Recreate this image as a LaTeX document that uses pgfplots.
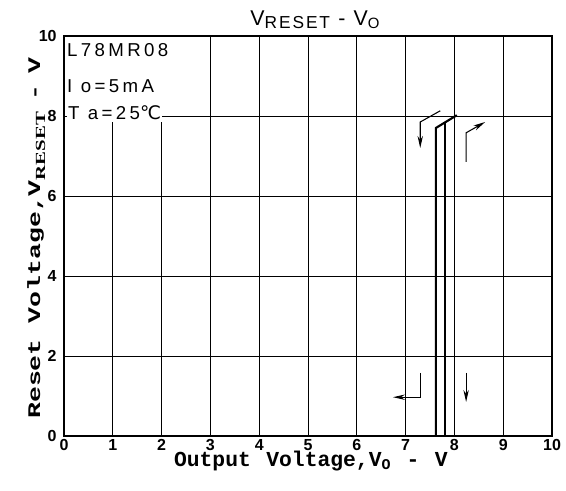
\documentclass[border=0pt]{standalone}
\usepackage{fontspec}
\setmainfont{Liberation Sans}
\setmonofont{Liberation Mono}
\newfontfamily\dejavu{DejaVu Sans}
\newfontfamily\serifb{Liberation Serif}
\newfontfamily\spaced[LetterSpace=18]{Liberation Sans}
\newfontfamily\titlefont[LetterSpace=11]{Liberation Sans}
\usepackage{graphicx}
\usepackage{pgfplots}
\pgfplotsset{compat=1.18}
\usetikzlibrary{calc,arrows.meta}
\begin{document}
\begin{tikzpicture}
\begin{axis}[
  scale only axis,
  width=366pt, height=300pt,
  xmin=0, xmax=10, ymin=0, ymax=10,
  xtick={0,1,...,10}, ytick={0,2,...,10},
  grid=major,
  major grid style={black, line width=0.5pt},
  axis line style={black, line width=1pt},
  tick style={draw=none},
  /pgf/number format/assume math mode=true,
  ticklabel style={font=\bfseries\fontsize{12}{14}\selectfont},
  xticklabel style={yshift=1pt},
  yticklabel style={xshift=-2pt},
  xlabel={\textbf{\texttt{Output\ \hspace{2pt}Voltage,V\textsubscript{O}\ \hspace{2pt}-\ \hspace{2pt}V}}},
  xlabel style={font=\fontsize{16}{18}\selectfont, at={(rel axis cs:0.506,0)}, anchor=north, inner sep=0pt, yshift=-11pt},
  ylabel={\scalebox{1.42}[0.95]{\textbf{\texttt{Reset Voltage,V\raisebox{-4pt}{\serifb\bfseries\fontsize{11}{13}\selectfont RESET}\hspace{6pt}-\hspace{6pt}V}}}},
  ylabel style={font=\fontsize{14}{16}\selectfont, at={(rel axis cs:-0.057,0.495)}, anchor=center, inner sep=0pt},
  title={V\raisebox{-2pt}{\fontsize{13}{15}\selectfont RESET} - V\textsubscript{O}},
  title style={font=\titlefont\fontsize{16}{18}\selectfont, at={(rel axis cs:0.515,1)}, anchor=south, inner sep=0pt, yshift=-1pt},
]
\fill[white] (axis cs:0.03,8.04) rectangle (axis cs:2.3,9.97);
\node[anchor=west, inner sep=0pt, font=\spaced\fontsize{14}{16}\selectfont] at (axis cs:0.06,9.65) {L78MR08};
\node[anchor=west, inner sep=0pt, font=\spaced\fontsize{14}{16}\selectfont] at (axis cs:0.06,8.75) {I o=5mA};
\node[anchor=west, inner sep=1pt, fill=white, font=\spaced\fontsize{14}{16}\selectfont] at (axis cs:0.05,8.07) {T a=25{\dejavu ℃}};
% characteristic
\addplot[black, line width=1.6pt] coordinates {(7.62,0) (7.62,7.7) (8.05,8.02)};
\addplot[black, line width=1.6pt] coordinates {(7.81,0) (7.81,7.84)};
% direction arrows
\addplot[black, line width=0.8pt, -{Stealth[length=9pt,width=4pt]}] coordinates {(7.71,8.13) (7.30,7.85) (7.30,7.2)};
\addplot[black, line width=0.8pt, -{Stealth[length=9pt,width=4pt]}] coordinates {(8.24,6.85) (8.24,7.58) (8.63,7.85)};
\addplot[black, line width=0.8pt, -{Stealth[length=9pt,width=4pt]}] coordinates {(7.30,1.58) (7.30,0.97) (6.74,0.97)};
\addplot[black, line width=0.8pt, -{Stealth[length=9pt,width=4pt]}] coordinates {(8.24,1.58) (8.24,0.85)};
\end{axis}
\pgfresetboundingbox
\path[use as bounding box] ($(current axis.south west)+(-48pt,-41.25pt)$) rectangle ($(current axis.north east)+(10.5pt,27pt)$);
\end{tikzpicture}
\end{document}
